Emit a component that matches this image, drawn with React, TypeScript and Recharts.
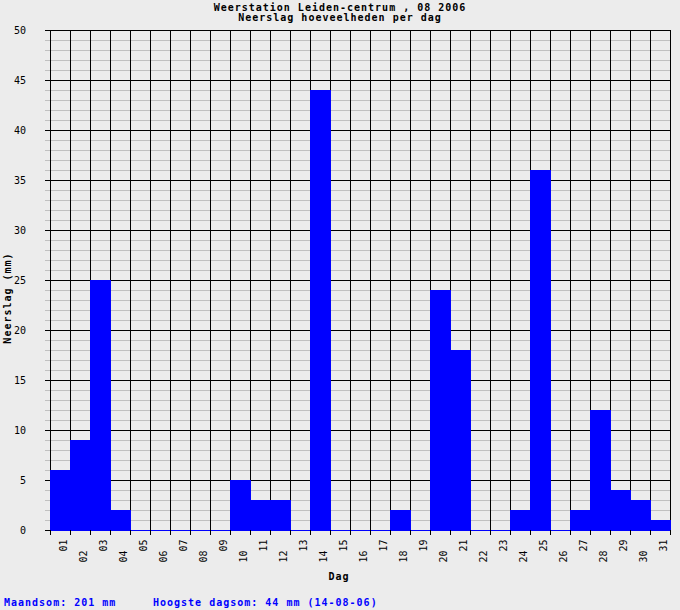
import { BarChart, Bar, XAxis, YAxis, CartesianGrid } from "recharts";

const DAYS = [
  "01", "02", "03", "04", "05", "06", "07", "08", "09", "10",
  "11", "12", "13", "14", "15", "16", "17", "18", "19", "20",
  "21", "22", "23", "24", "25", "26", "27", "28", "29", "30", "31",
];
const RAIN_MM = [6, 9, 25, 2, 0, 0, 0, 0, 0, 5, 3, 3, 0, 44, 0, 0, 0, 2, 0, 24, 18, 0, 0, 2, 36, 0, 2, 12, 4, 3, 1];
const MAJOR_TICKS = [0, 5, 10, 15, 20, 25, 30, 35, 40, 45, 50];
const MINOR_TICKS = Array.from({ length: 51 }, (_, i) => i);

const data = DAYS.map((day, i) => ({ day, rain: RAIN_MM[i] }));

const total = RAIN_MM.reduce((a, b) => a + b, 0);
const maxRain = Math.max(...RAIN_MM);
const maxDay = DAYS[RAIN_MM.indexOf(maxRain)];

const MONO = "'DejaVu Sans Mono', monospace";
const BLUE = "#0000ff";

function YTick({ x, y, payload }: any) {
  const major = payload.value % 5 === 0;
  return (
    <g>
      <line x1={x - 5} x2={x} y1={y} y2={y} stroke={major ? "#000" : "#c0c0c0"} />
      {major && (
        <text x={x - 24} y={y + 3.5} textAnchor="end" fontFamily={MONO} fontSize={10} fill="#000">
          {payload.value}
        </text>
      )}
    </g>
  );
}

function DayTick({ x, y, payload, index }: any) {
  const half = payload.offset ?? 10;
  const ty = y + (index % 2 === 0 ? 9.5 : 20.5);
  const tx = x + 6.5;
  return (
    <g>
      <line x1={x - half} x2={x - half} y1={y} y2={y + 5} stroke="#000" />
      {index === DAYS.length - 1 && <line x1={x + half} x2={x + half} y1={y} y2={y + 5} stroke="#000" />}
      <text
        x={tx}
        y={ty}
        transform={`rotate(-90 ${tx} ${ty})`}
        textAnchor="end"
        fontFamily={MONO}
        fontSize={10}
        fill="#000"
      >
        {payload.value}
      </text>
    </g>
  );
}

// bars include the baseline row, so zero days still show a 1px blue line
function RainBar({ x, y, width, height }: any) {
  return <rect x={x} y={y} width={width + 1} height={height + 1} fill={BLUE} />;
}

// vertical grid on the day boundaries (band edges of the category axis)
function dayEdges({ xAxis, offset }: any) {
  const s = xAxis?.scale;
  if (typeof s === "function" && typeof s.bandwidth === "function") {
    return [...DAYS.map((d) => s(d)), s(DAYS[DAYS.length - 1]) + s.bandwidth()];
  }
  const step = offset.width / DAYS.length;
  return [...DAYS.map((_, i) => offset.left + i * step), offset.left + offset.width];
}

export default function App() {
  return (
    <div style={{ position: "absolute", left: 0, top: 0, width: 680, height: 610, background: "#ececec" }}>
      <BarChart
        width={680}
        height={610}
        data={data}
        margin={{ top: 30, right: 10, left: 10, bottom: 10 }}
        barCategoryGap={0}
        barGap={0}
        style={{ shapeRendering: "crispEdges" }}
      >
        <XAxis
          dataKey="day"
          interval={0}
          tickSize={0}
          tickMargin={0}
          axisLine={false}
          tickLine={false}
          tick={DayTick}
          height={70}
        />
        <YAxis
          domain={[0, 50]}
          ticks={MINOR_TICKS}
          interval={0}
          tickSize={0}
          tickMargin={0}
          axisLine={false}
          tickLine={false}
          tick={YTick}
          width={40}
        />
        <CartesianGrid vertical={false} horizontalValues={MINOR_TICKS} stroke="#c0c0c0" />
        <CartesianGrid horizontalValues={MAJOR_TICKS} verticalCoordinatesGenerator={dayEdges} stroke="#000" />
        <Bar dataKey="rain" shape={RainBar} isAnimationActive={false} />
      </BarChart>
      <svg width={680} height={610} style={{ position: "absolute", left: 0, top: 0, pointerEvents: "none" }}>
        <g fontFamily={MONO} fontWeight="bold" fontSize={10} letterSpacing={1}>
          <text x={340} y={10.5} textAnchor="middle">Weerstation Leiden-centrum , 08 2006</text>
          <text x={340} y={20.5} textAnchor="middle">Neerslag hoeveelheden per dag</text>
          <text x={339} y={579.5} textAnchor="middle">Dag</text>
          <text x={10.7} y={298} textAnchor="middle" transform="rotate(-90 10.7 298)">Neerslag (mm)</text>
          <text x={4} y={605.5} fill={BLUE}>{`Maandsom: ${total} mm`}</text>
          <text x={153} y={605.5} fill={BLUE}>{`Hoogste dagsom: ${maxRain} mm (${maxDay}-08-06)`}</text>
        </g>
      </svg>
    </div>
  );
}
